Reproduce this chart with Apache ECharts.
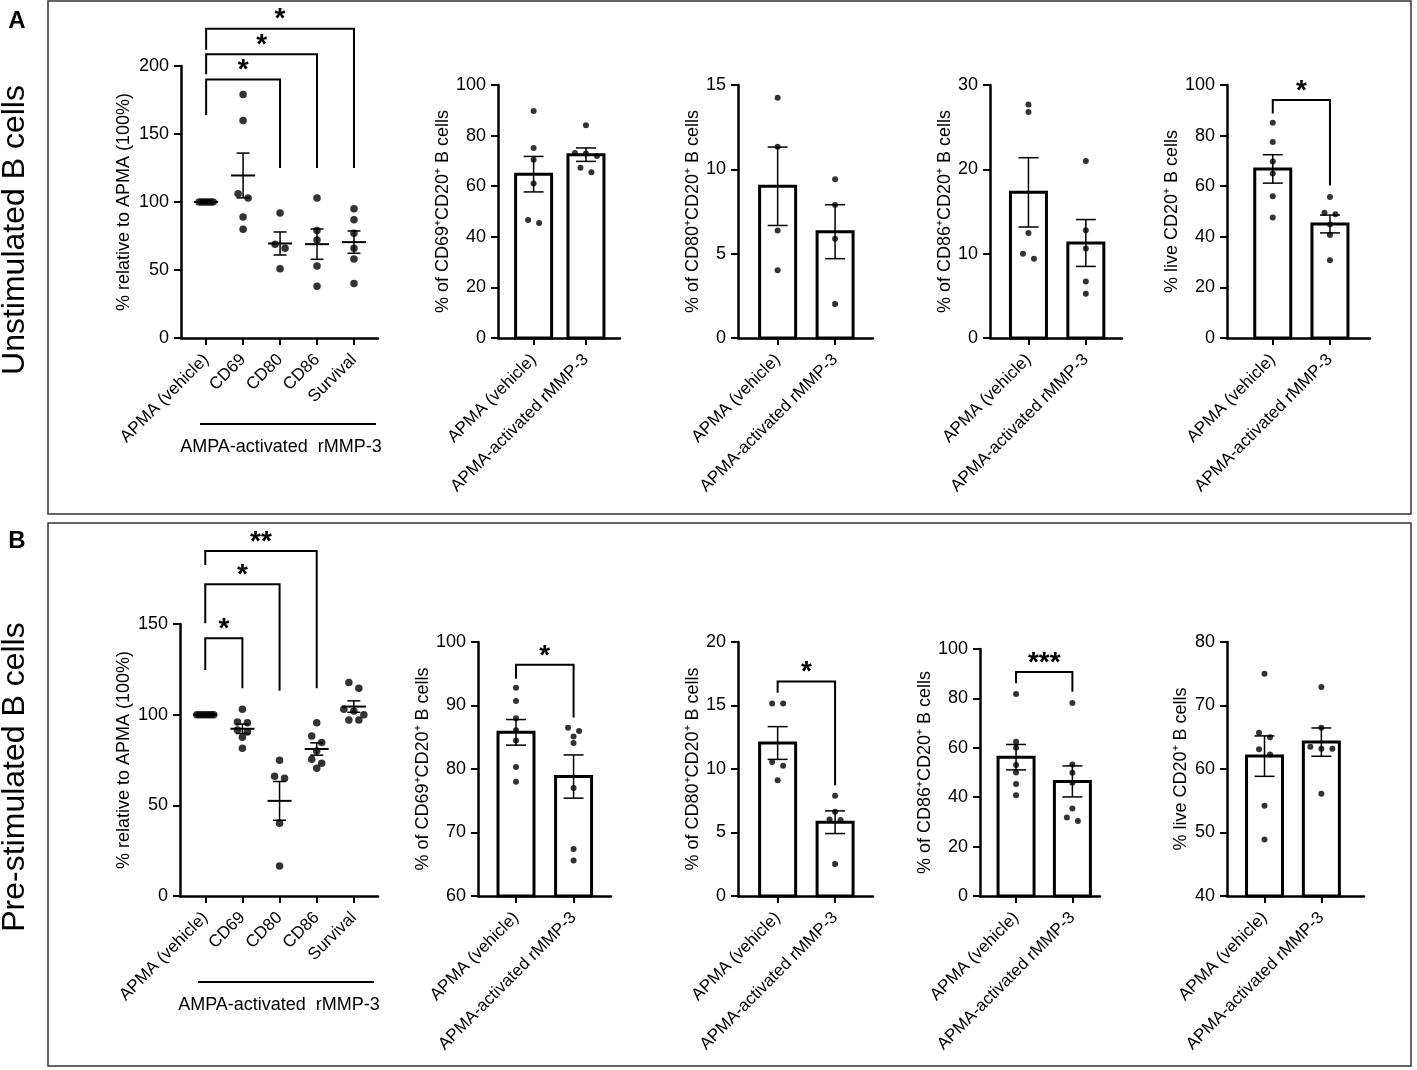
<!DOCTYPE html>
<html>
<head>
<meta charset="utf-8">
<script src="https://cdn.jsdelivr.net/npm/echarts@6/dist/echarts.min.js"></script>
<style>
  html, body { margin: 0; padding: 0; background: #fff; }
  #chart { width: 1417px; height: 1070px; }
</style>
</head>
<body>
<div id="chart"></div>
<script>
// ---- category / tick labels ----
const dotCats = ['APMA (vehicle)', 'CD69', 'CD80', 'CD86', 'Survival'];
const barCats = ['APMA (vehicle)', 'APMA-activated rMMP-3'];
const groupNote = 'AMPA-activated  rMMP-3';

// ---- A: unstimulated B cells ----
const a1Vehicle = [100, 100, 100, 100, 100, 100];
const a1CD69 = [179, 160, 106, 103, 89, 80];
const a1CD80 = [92, 69, 66, 51];
const a1CD86 = [103, 79, 72, 53, 38];
const a1Survival = [95, 87, 77, 66, 58, 40];

const a2Vehicle = [89.7, 75.1, 70.5, 61.1, 46.6, 45.5];
const a2Rmmp3 = [84.1, 73.1, 72.9, 71.9, 67.3, 65.5];

const a3Vehicle = [14.25, 11.34, 6.38, 4.01];
const a3Rmmp3 = [9.41, 7.89, 5.89, 2.02];

const a4Vehicle = [27.7, 26.8, 12.45, 10.0, 9.4];
const a4Rmmp3 = [21.0, 12.77, 10.6, 6.7, 5.26];

const a5Vehicle = [85.1, 77.5, 69.8, 65.0, 56.0, 47.6];
const a5Rmmp3 = [55.7, 49.5, 48.9, 44.9, 40.7, 30.7];

// ---- B: pre-stimulated B cells ----
const b1Vehicle = [100, 100, 100, 100, 100, 100, 100];
const b1CD69 = [103, 96, 95.5, 91.5, 90.5, 87.5, 81.5];
const b1CD80 = [74.8, 66, 64.9, 40.1, 16.5];
const b1CD86 = [95.6, 88.2, 84.6, 80, 75.4, 73.2, 70.4];
const b1Survival = [117.8, 114.5, 103, 102, 100, 97, 97];

const b2Vehicle = [92.8, 90.7, 88.0, 86.1, 84.5, 80.3, 78.0];
const b2Rmmp3 = [86.5, 86.0, 85.1, 84.1, 77.0, 67.4, 65.6];

const b3Vehicle = [15.15, 15.15, 10.56, 10.25, 9.12];
const b3Rmmp3 = [7.89, 6.63, 6.03, 5.98, 2.52];

const b4Vehicle = [81.8, 62.5, 60.0, 53.0, 50.0, 45.3, 40.8];
const b4Rmmp3 = [78.1, 53.2, 49.9, 45.9, 35.4, 31.8, 30.4];

const b5Vehicle = [75.0, 65.7, 65.0, 63.1, 62.3, 54.2, 48.9];
const b5Rmmp3 = [72.9, 66.5, 63.5, 63.2, 63.2, 56.1];

// significance brackets: [from, to, top, left leg end, right leg end, stars]
const a1Brackets = [[0, 2, 190, 164, 125, '*'], [0, 3, 208.6, 194, 125, '*'], [0, 4, 227.4, 212, 125, '*']];
const a5Brackets = [[0, 1, 94.1, 88.7, 60.3, '*']];
const b1Brackets = [[0, 1, 142.1, 124.6, 114.5, '*'], [0, 2, 171.9, 150.4, 113.2, '*'], [0, 3, 190.3, 182.5, 114.5, '**']];
const b2Brackets = [[0, 1, 96.4, 94.2, 88.1, '*']];
const b3Brackets = [[0, 1, 16.88, 16.0, 8.73, '*']];
const b4Brackets = [[0, 1, 90.7, 86.1, 82.7, '***']];

const FONT = '"Liberation Sans", Arial, Helvetica, sans-serif';

// panel layout (pixels) + axis ranges
const panels = [
  { groups: [a1Vehicle, a1CD69, a1CD80, a1CD86, a1Survival], cats: dotCats, kind: 'dot',
    left: 181, top: 66, width: 197, height: 272, xMin: -0.68, xMax: 4.65,
    yMin: 0, yMax: 200, yStep: 50, yName: '% relative to APMA (100%)', nameGap: 48, brackets: a1Brackets },
  { groups: [a2Vehicle, a2Rmmp3], cats: barCats, kind: 'bar',
    left: 498, top: 85, width: 122, height: 253, xMin: -0.68, xMax: 1.65,
    yMin: 0, yMax: 100, yStep: 20, yName: '% of CD69⁺CD20⁺ B cells', nameGap: 43, brackets: [] },
  { groups: [a3Vehicle, a3Rmmp3], cats: barCats, kind: 'bar',
    left: 738, top: 85, width: 135, height: 253, xMin: -0.69, xMax: 1.66,
    yMin: 0, yMax: 15, yStep: 5, yName: '% of CD80⁺CD20⁺ B cells', nameGap: 31, brackets: [] },
  { groups: [a4Vehicle, a4Rmmp3], cats: barCats, kind: 'bar',
    left: 990, top: 85, width: 132, height: 253, xMin: -0.67, xMax: 1.63,
    yMin: 0, yMax: 30, yStep: 10, yName: '% of CD86⁺CD20⁺ B cells', nameGap: 33, brackets: [] },
  { groups: [a5Vehicle, a5Rmmp3], cats: barCats, kind: 'bar',
    left: 1227, top: 85, width: 143, height: 253, xMin: -0.8, xMax: 1.7,
    yMin: 0, yMax: 100, yStep: 20, yName: '% live CD20⁺ B cells', nameGap: 35, brackets: a5Brackets },

  { groups: [b1Vehicle, b1CD69, b1CD80, b1CD86, b1Survival], cats: dotCats, kind: 'dot',
    left: 180, top: 624, width: 198, height: 272, xMin: -0.68, xMax: 4.65,
    yMin: 0, yMax: 150, yStep: 50, yName: '% relative to APMA (100%)', nameGap: 47, brackets: b1Brackets },
  { groups: [b2Vehicle, b2Rmmp3], cats: barCats, kind: 'bar',
    left: 478, top: 642, width: 133, height: 254, xMin: -0.66, xMax: 1.65,
    yMin: 60, yMax: 100, yStep: 10, yName: '% of CD69⁺CD20⁺ B cells', nameGap: 43, brackets: b2Brackets },
  { groups: [b3Vehicle, b3Rmmp3], cats: barCats, kind: 'bar',
    left: 738, top: 642, width: 135, height: 254, xMin: -0.69, xMax: 1.66,
    yMin: 0, yMax: 20, yStep: 5, yName: '% of CD80⁺CD20⁺ B cells', nameGap: 31, brackets: b3Brackets },
  { groups: [b4Vehicle, b4Rmmp3], cats: barCats, kind: 'bar',
    left: 980, top: 649, width: 120, height: 247, xMin: -0.64, xMax: 1.49,
    yMin: 0, yMax: 100, yStep: 20, yName: '% of CD86⁺CD20⁺ B cells', nameGap: 43, brackets: b4Brackets },
  { groups: [b5Vehicle, b5Rmmp3], cats: barCats, kind: 'bar',
    left: 1227, top: 642, width: 137, height: 254, xMin: -0.66, xMax: 1.75,
    yMin: 40, yMax: 80, yStep: 10, yName: '% live CD20⁺ B cells', nameGap: 37, brackets: [] }
];

function mean(a) { return a.reduce((s, v) => s + v, 0) / a.length; }
function sem(a) {
  const m = mean(a);
  const ss = a.reduce((s, v) => s + (v - m) * (v - m), 0);
  return Math.sqrt(ss / (a.length - 1)) / Math.sqrt(a.length);
}

// points that sit closer than `bin` px vertically share a row and are spread sideways
function spread(values, xi, pxPerX, pxPerY, bin, gap) {
  const sorted = values.slice().sort((a, b) => b - a);
  const rows = [];
  sorted.forEach(v => {
    const row = rows[rows.length - 1];
    if (row && (row[0] - v) * pxPerY < bin) row.push(v);
    else rows.push([v]);
  });
  const out = [];
  rows.forEach(row => {
    const same = row.length > 2 && row.every(v => v === row[0]);
    const g = same ? 2.8 : gap;
    row.forEach((v, j) => {
      const off = (j - (row.length - 1) / 2) * g;
      out.push([xi + off / pxPerX, v]);
    });
  });
  return out;
}

const grid = [], xAxis = [], yAxis = [], series = [];

panels.forEach((p, idx) => {
  const isDot = p.kind === 'dot';
  const pxPerX = p.width / (p.xMax - p.xMin);
  const pxPerY = p.height / (p.yMax - p.yMin);
  const ticks = p.cats.map((c, i) => i);

  grid.push({ left: p.left, top: p.top, width: p.width, height: p.height });

  xAxis.push({
    type: 'value', gridIndex: idx, min: p.xMin, max: p.xMax,
    splitLine: { show: false },
    axisLine: { show: true, onZero: false, lineStyle: { color: '#000', width: 2.5 } },
    axisTick: { show: true, customValues: ticks, length: 7, lineStyle: { color: '#000', width: 2 } },
    axisLabel: {
      customValues: ticks, rotate: 45, margin: 19,
      color: '#000', fontSize: 17, fontFamily: FONT,
      formatter: v => p.cats[Math.round(v)]
    }
  });

  yAxis.push({
    type: 'value', gridIndex: idx, min: p.yMin, max: p.yMax, interval: p.yStep,
    splitLine: { show: false },
    axisLine: { show: true, onZero: false, lineStyle: { color: '#000', width: 2.5 } },
    axisTick: { show: true, length: 7, lineStyle: { color: '#000', width: 2 } },
    axisLabel: { color: '#000', fontSize: 18, fontFamily: FONT, margin: 12 },
    name: p.yName, nameLocation: 'middle', nameGap: p.nameGap,
    nameTextStyle: { color: '#000', fontSize: 18, fontFamily: FONT }
  });

  const stats = p.groups.map((g, i) => [i, mean(g), sem(g)]);

  // bars
  if (!isDot) {
    const bw = 36;
    series.push({
      type: 'custom', xAxisIndex: idx, yAxisIndex: idx, silent: true,
      data: stats,
      renderItem: (params, api) => {
        const x = api.value(0), m = api.value(1);
        const t = api.coord([x, m]);
        const b = api.coord([x, p.yMin]);
        return {
          type: 'rect',
          shape: { x: t[0] - bw / 2, y: t[1], width: bw, height: b[1] - t[1] },
          style: { fill: '#fff', stroke: '#000', lineWidth: 3 }
        };
      }
    });
  }

  // individual points
  const pts = [];
  p.groups.forEach((g, i) => {
    spread(g, i, pxPerX, pxPerY, isDot ? 7 : 6, isDot ? 10 : 11).forEach(d => pts.push(d));
  });
  series.push({
    type: 'scatter', xAxisIndex: idx, yAxisIndex: idx, silent: true,
    symbol: 'circle', symbolSize: isDot ? 7.5 : 6,
    itemStyle: { color: '#000' },
    data: pts
  });

  // mean +/- SEM
  series.push({
    type: 'custom', xAxisIndex: idx, yAxisIndex: idx, silent: true,
    data: stats,
    renderItem: (params, api) => {
      const x = api.value(0), m = api.value(1), s = api.value(2);
      const c = api.coord([x, m]);
      const t = api.coord([x, m + s]);
      const b = api.coord([x, m - s]);
      const cap = isDot ? 6.5 : 10;
      const st = { stroke: '#000', lineWidth: 1.5 };
      const kids = [
        { type: 'line', shape: { x1: c[0], y1: t[1], x2: c[0], y2: b[1] }, style: st },
        { type: 'line', shape: { x1: c[0] - cap, y1: t[1], x2: c[0] + cap, y2: t[1] }, style: st },
        { type: 'line', shape: { x1: c[0] - cap, y1: b[1], x2: c[0] + cap, y2: b[1] }, style: st }
      ];
      if (isDot) {
        kids.push({ type: 'line', shape: { x1: c[0] - 12, y1: c[1], x2: c[0] + 12, y2: c[1] },
          style: { stroke: '#000', lineWidth: 2 } });
      }
      return { type: 'group', children: kids };
    }
  });

  // significance brackets
  if (p.brackets.length) {
    series.push({
      type: 'custom', xAxisIndex: idx, yAxisIndex: idx, silent: true, clip: false,
      data: p.brackets.map(b => b.slice(0, 5)),
      renderItem: (params, api) => {
        const x1 = api.value(0), x2 = api.value(1);
        const tl = api.coord([x1, api.value(2)]);
        const tr = api.coord([x2, api.value(2)]);
        const l = api.coord([x1, api.value(3)]);
        const r = api.coord([x2, api.value(4)]);
        return {
          type: 'group',
          children: [
            { type: 'polyline', shape: { points: [l, tl, tr, r] },
              style: { stroke: '#000', lineWidth: 2, fill: null } },
            { type: 'text', style: {
                text: p.brackets[params.dataIndex][5],
                x: (tl[0] + tr[0]) / 2, y: tl[1] + 5,
                align: 'center', verticalAlign: 'bottom',
                font: 'bold 28px ' + FONT, fill: '#000' } }
          ]
        };
      }
    });
  }
});

// frames, panel letters, row titles, group notes
const graphic = [
  { type: 'rect', shape: { x: 48, y: 1, width: 1363, height: 513 },
    style: { fill: null, stroke: '#333', lineWidth: 1.5 } },
  { type: 'rect', shape: { x: 48, y: 523, width: 1363, height: 543 },
    style: { fill: null, stroke: '#333', lineWidth: 1.5 } },
  { type: 'text', x: 17, y: 21, style: { text: 'A', font: 'bold 24px ' + FONT, fill: '#000',
    align: 'center', verticalAlign: 'middle' } },
  { type: 'text', x: 17, y: 541, style: { text: 'B', font: 'bold 24px ' + FONT, fill: '#000',
    align: 'center', verticalAlign: 'middle' } },
  { type: 'text', x: 15, y: 230, rotation: Math.PI / 2,
    style: { text: 'Unstimulated B cells', font: '32px ' + FONT, fill: '#000',
      align: 'center', verticalAlign: 'middle' } },
  { type: 'text', x: 15, y: 777, rotation: Math.PI / 2,
    style: { text: 'Pre-stimulated B cells', font: '32px ' + FONT, fill: '#000',
      align: 'center', verticalAlign: 'middle' } },
  { type: 'line', shape: { x1: 200, y1: 424, x2: 376, y2: 424 }, style: { stroke: '#000', lineWidth: 2 } },
  { type: 'text', x: 281, y: 447, style: { text: groupNote, font: '18px ' + FONT, fill: '#000',
    align: 'center', verticalAlign: 'middle' } },
  { type: 'line', shape: { x1: 198, y1: 982, x2: 374, y2: 982 }, style: { stroke: '#000', lineWidth: 2 } },
  { type: 'text', x: 279, y: 1005, style: { text: groupNote, font: '18px ' + FONT, fill: '#000',
    align: 'center', verticalAlign: 'middle' } }
];

const chart = echarts.init(document.getElementById('chart'), null, { renderer: 'canvas' });
chart.setOption({
  animation: false,
  backgroundColor: '#fff',
  textStyle: { fontFamily: FONT },
  grid, xAxis, yAxis, series, graphic
});
</script>
</body>
</html>
